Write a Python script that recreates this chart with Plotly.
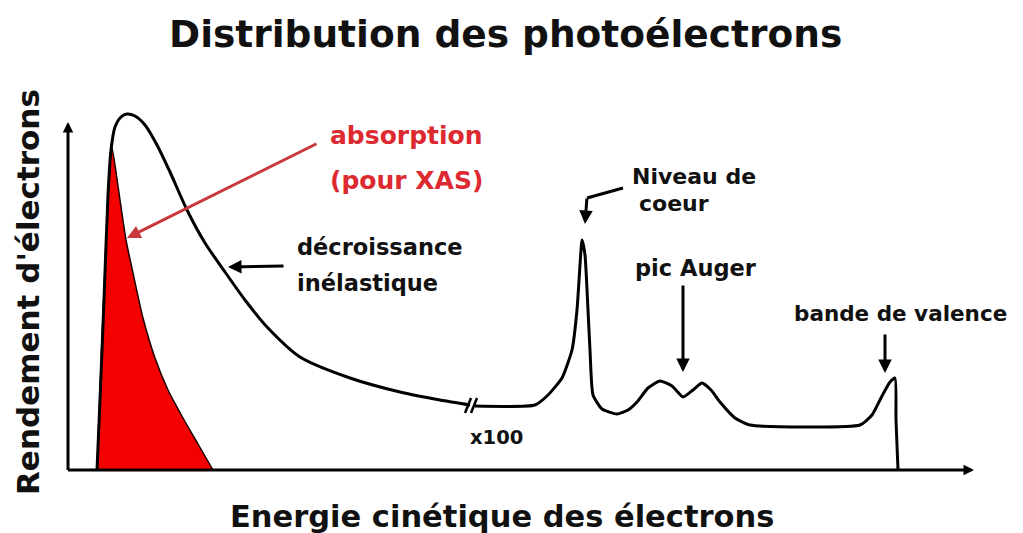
import plotly.graph_objects as go

# kinetic energy (arb. units) and electron yield (arb. units)
energy_low = [29, 32, 36, 40, 43, 47, 53, 59, 67, 77, 89, 102, 119, 137, 157, 177, 200, 232, 282, 332, 372, 402]
yield_low = [0, 70, 170, 275, 320, 343, 353, 356, 354, 345, 325, 298, 260, 227, 198, 170, 142, 113, 92, 78, 70, 65]

# after the axis break (x100)
energy_high = [407, 467, 480, 494, 504, 509, 512, 514, 517, 520, 522, 525, 534, 549, 560, 569, 580, 592, 604, 615,
               625, 634, 643, 652, 667, 682, 792, 804, 814, 822, 827, 828, 830]
yield_high = [64, 65, 75, 92, 120, 160, 205, 230, 215, 160, 120, 75, 61, 56, 60, 68, 82, 89, 84, 73,
              80, 87, 80, 68, 52, 45, 45, 55, 74, 88, 92, 50, 0]

# absorption part (XAS) - red area
energy_abs = [29, 32, 36, 40, 44, 48, 52, 58, 65, 75, 87, 100, 115, 130, 145]
yield_abs = [0, 80, 180, 270, 322, 298, 270, 230, 197, 152, 112, 80, 52, 26, 0]

break_x = 404

FONT = "DejaVu Sans"
RED_TXT = "#dc2a30"
RED_ARROW = "#c8383c"

fig = go.Figure()

fig.add_trace(go.Scatter(
    x=energy_abs, y=yield_abs, mode="lines", fill="toself",
    fillcolor="#f40000", line=dict(color="#1a0000", width=1.5, shape="spline", smoothing=0.6),
    hoverinfo="skip", showlegend=False,
))
fig.add_trace(go.Scatter(
    x=energy_low, y=yield_low, mode="lines",
    line=dict(color="black", width=3, shape="spline", smoothing=0.7),
    hoverinfo="skip", showlegend=False,
))
fig.add_trace(go.Scatter(
    x=energy_high, y=yield_high, mode="lines",
    line=dict(color="black", width=3, shape="spline", smoothing=0.5),
    hoverinfo="skip", showlegend=False,
))

# break marks "//"
for dx in (-4, 2):
    fig.add_shape(type="line", x0=break_x + dx - 3, y0=57, x1=break_x + dx + 3, y1=72,
                  line=dict(color="black", width=2.5))

# axes as arrows
def arrow(x, y, ax, ay, color="black", width=3, size=0.9, head=2):
    fig.add_annotation(x=x, y=y, ax=ax, ay=ay, xref="x", yref="y", axref="x", ayref="y",
                       text="", showarrow=True, arrowhead=head, arrowsize=size,
                       arrowwidth=width, arrowcolor=color)

arrow(0, 348, 0, -1.5, size=0.7)
arrow(906, 0, -1.5, 0, size=0.7)

# annotation arrows
arrow(59, 232, 250, 327, color=RED_ARROW, width=3, size=0.9)
arrow(160, 203, 217, 204, size=0.9)
fig.add_shape(type="line", x0=555, y0=282, x1=519, y1=272, line=dict(color="black", width=3))
arrow(517, 246, 519, 273, size=0.9)
arrow(615, 98, 615, 186, size=0.9)
arrow(817, 97, 817, 137, size=0.9)

def label(txt, x, y, size, color="#111111", xanchor="center", angle=0):
    fig.add_annotation(x=x, y=y, xref="x", yref="y", text="<b>%s</b>" % txt, showarrow=False,
                       xanchor=xanchor, yanchor="middle", textangle=angle,
                       font=dict(family=FONT, size=size, color=color))

label("Distribution des photoélectrons", 437, 436, 37.5)
label("Energie cinétique des électrons", 434, -46, 30.5)
label("Rendement d'électrons", -40, 178, 31, angle=-90)
label("absorption", 338, 335, 25, color=RED_TXT)
label("(pour XAS)", 338, 290, 25, color=RED_TXT)
label("décroissance", 227, 223, 22.5, xanchor="left")
label("inélastique", 227, 187, 22.5, xanchor="left")
label("Niveau de", 562, 294, 22, xanchor="left")
label("coeur", 569, 267, 22, xanchor="left")
label("pic Auger", 565, 202, 22.5, xanchor="left")
label("bande de valence", 724, 157, 21.5, xanchor="left")
label("x100", 400, 33, 19.5, xanchor="left")

# page body has an 8px margin, so the figure is 8px smaller and the ranges start 8px later
fig.update_layout(
    width=1015, height=525,
    margin=dict(l=0, r=0, t=0, b=0),
    paper_bgcolor="white", plot_bgcolor="white",
    xaxis=dict(range=[-60, 955], visible=False, fixedrange=True),
    yaxis=dict(range=[-63, 462], visible=False, fixedrange=True),
    showlegend=False,
)

fig.write_html("out.html")
